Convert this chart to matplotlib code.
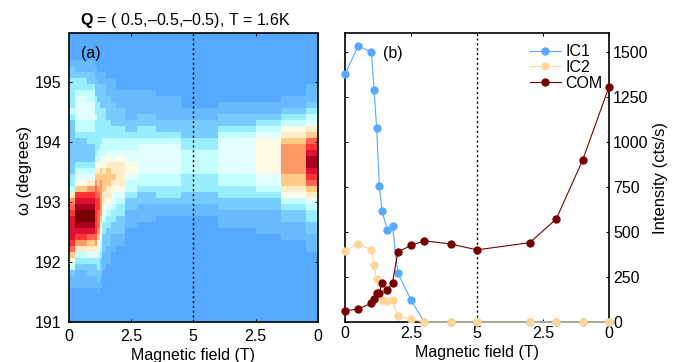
import matplotlib
matplotlib.use("Agg")
import matplotlib.pyplot as plt
import numpy as np
from matplotlib.colors import LinearSegmentedColormap

plt.rcParams["font.family"] = ["Liberation Sans", "DejaVu Sans"]
plt.rcParams["mathtext.fontset"] = "custom"
plt.rcParams["mathtext.bf"] = "Liberation Sans:bold"
plt.rcParams["mathtext.rm"] = "Liberation Sans"

# field sweep positions, 0 -> 5 T -> back to 0 T
field = [0, 0.5, 1, 1.1, 1.2, 1.3, 1.4, 1.6, 1.8, 2, 2.5, 3, 4, 5, 7, 8, 9, 10]
tick_pos = [0, 2.5, 5, 7.5, 10]
tick_labels = ["0", "2.5", "5", "2.5", "0"]
omega_ticks = [191, 192, 193, 194, 195]
intensity_ticks = [0, 250, 500, 750, 1000, 1250, 1500]

ic1 = [1374, 1531, 1497, 1287, 1075, 755, 618, 510, 533, 272, 122, 0, 0, 0, 0, 0, 0, 0]
ic2 = [394, 433, 400, 314, 237, 140, 122, 116, 120, 33, 15, 0, 0, 0, 0, 0, 0, 0]
com = [63, 72, 104, 126, 159, 163, 215, 178, 218, 388, 425, 450, 433, 400, 440, 571, 897, 1304]

# map levels per field column, listed from omega = 195.8 down to 191.0
c00 = [0,0,0,0,0,1, 2,2,3,3,3,3, 3,4,3,2,2,2, 2,2,2,2,2,2, 3,3,4,7,9,10, 11,12,12,12,12,11, 10,8,6,4,2,1, 1,0,0,0,0,0, 0]
c01 = [0,0,0,0,0,1, 1,2,3,3,4,5, 5,5,5,4,4,3, 2,2,2,2,3,4, 5,6,8,11,12,13, 14,14,13,12,11,9, 7,4,3,2,1,1, 1,0,0,0,0,0, 0]
c02 = [0,0,0,0,0,1, 1,2,2,3,4,4, 5,5,5,4,4,3, 3,2,2,2,3,4, 5,7,9,11,12,13, 14,14,13,12,10,8, 7,5,3,2,2,1, 1,0,0,0,0,0, 0]
c03 = [0,0,0,0,0,0, 1,1,2,2,2,3, 3,3,4,3,3,3, 3,3,3,4,6,7, 8,9,10,10,11,11, 11,11,11,11,10,9, 7,5,3,2,2,1, 1,0,0,0,0,0, 0]
c04 = [0,0,0,0,0,0, 0,1,1,2,2,2, 3,3,3,3,3,3, 3,3,4,4,6,7, 8,8,9,10,11,11, 10,10,10,9,8,6, 5,4,3,3,2,2, 1,1,0,0,0,0, 0]
c05 = [0,0,0,0,0,0, 0,1,1,2,2,2, 2,3,3,3,3,3, 3,4,4,5,6,8, 8,9,9,9,9,9, 9,8,7,6,5,4, 4,3,2,2,2,1, 1,0,0,0,0,0, 0]
c06 = [0,0,0,0,0,0, 0,1,1,2,2,2, 2,3,3,3,3,3, 4,4,4,5,6,7, 8,8,8,7,7,6, 5,4,3,3,2,2, 2,1,1,1,0,0, 0,0,0,0,0,0, 0]
c07 = [0,0,0,0,0,0, 0,0,1,1,1,2, 2,2,2,3,3,3, 4,4,5,6,7,8, 8,8,7,7,6,5, 4,3,3,2,2,2, 1,1,1,0,0,0, 0,0,0,0,0,0, 0]
c08 = [0,0,0,0,0,0, 0,0,1,1,1,1, 2,2,2,2,3,3, 4,4,5,5,7,7, 8,7,6,5,5,4, 3,3,2,2,1,1, 1,0,0,0,0,0, 0,0,0,0,0,0, 0]
c09 = [0,0,0,0,0,0, 0,0,0,0,1,1, 1,2,2,2,3,3, 4,4,5,6,7,7, 7,7,6,5,4,3, 3,2,2,2,1,1, 0,0,0,0,0,0, 0,0,0,0,0,0, 0]
c10 = [0,0,0,0,0,0, 0,0,0,0,1,1, 1,1,1,2,2,3, 4,4,5,5,6,6, 5,4,4,3,2,2, 1,1,1,0,0,0, 0,0,0,0,0,0, 0,0,0,0,0,0, 0]
c11 = [0,0,0,0,0,0, 0,0,0,0,1,1, 1,1,2,2,3,3, 4,5,5,5,5,5, 4,4,3,2,2,1, 1,1,0,0,0,0, 0,0,0,0,0,0, 0,0,0,0,0,0, 0]
c12 = [0,0,0,0,0,0, 0,0,0,0,0,1, 1,1,1,2,2,3, 4,5,5,5,5,5, 4,4,3,3,2,1, 1,0,0,0,0,0, 0,0,0,0,0,0, 0,0,0,0,0,0, 0]
c13 = [0,0,0,0,0,0, 0,0,0,0,0,0, 0,1,1,2,2,2, 3,3,4,4,4,4, 3,3,3,2,2,1, 1,0,0,0,0,0, 0,0,0,0,0,0, 0,0,0,0,0,0, 0]
c14 = [0,0,0,0,0,0, 0,0,0,0,0,0, 1,1,2,2,3,4, 5,5,5,5,5,5, 4,4,3,3,2,2, 1,1,1,0,0,0, 0,0,0,0,0,0, 0,0,0,0,0,0, 0]
c15 = [0,0,0,0,0,0, 0,0,0,0,0,0, 1,1,2,3,4,5, 6,6,6,6,6,6, 5,5,4,3,2,2, 1,1,1,1,0,0, 0,0,0,0,0,0, 0,0,0,0,0,0, 0]
c16 = [0,0,0,0,0,0, 0,0,0,0,0,1, 1,2,3,4,6,7, 8,9,9,9,9,9, 8,8,7,6,4,3, 2,2,1,1,1,0, 0,0,0,0,0,0, 0,0,0,0,0,0, 0]
c17 = [0,0,0,0,0,0, 0,0,0,1,1,1, 2,3,4,5,7,8, 10,11,12,13,13,12, 11,10,8,7,5,4, 3,3,2,2,1,1, 1,0,0,0,0,0, 0,0,0,0,0,0, 0]
columns = [c00, c01, c02, c03, c04, c05, c06, c07, c08, c09, c10, c11, c12, c13, c14, c15, c16, c17]

level_colors = ["#55aaff", "#66bbff", "#77ccff", "#99eeff", "#c4ffff", "#e2ffff", "#fffbe6", "#ffeecc",
                "#ffcc88", "#ff9966", "#ff6655", "#ff3333", "#dd1133", "#aa0022", "#770000"]

W, H = 680, 362
BLUE, TAN, DARK = "#55aaff", "#ffd699", "#770000"


def make_axes(left, right):
    ax = fig.add_axes([left / W, 1 - 322 / H, (right - left) / W, 288.5 / H])
    ax.set_xlim(0, 10)
    ax.set_xticks(tick_pos)
    ax.set_xticklabels(tick_labels)
    ax.set_xlabel("Magnetic field (T)", fontsize=11.5, labelpad=3)
    ax.tick_params(direction="in", length=2.5, width=0.7, top=True, labelsize=11.5, pad=5)
    for s in ax.spines.values():
        s.set_linewidth(1.2)
    ax.axvline(5, color="k", ls=(0, (1.5, 2)), lw=1, zorder=1.5)
    return ax


def plot_series(ax, y, c, label):
    ax.plot(field, y, "-o", c=c, ms=5, lw=0.8, label=label, clip_on=False, zorder=3)


fig = plt.figure(figsize=(W / 100, H / 100), dpi=100)

# panel a, map
ax1 = make_axes(68.5, 318)
grid = np.array(columns, dtype=float).T[::-1]
mid = [(a + b) / 2 for a, b in zip(field[:-1], field[1:])]
x_edges = np.array([field[0]] + mid + [field[-1]])
y_edges = 190.967 + 0.1 * np.arange(grid.shape[0] + 1)
cmap = LinearSegmentedColormap.from_list("blue_red", level_colors)
ax1.pcolormesh(x_edges, y_edges, grid, cmap=cmap, vmin=0, vmax=14, shading="flat", antialiased=False, rasterized=True)
ax1.set_ylim(191, 195.81)
ax1.set_yticks(omega_ticks)
ax1.tick_params(right=True)
ax1.set_ylabel("\u03c9 (degrees)", fontsize=12)
ax1.yaxis.set_label_coords(-0.145, 0.527)
ax1.text(0.5, 195.47, "(a)", fontsize=11.5, va="center")
fig.text(80 / W, 1 - 20.5 / H, "$\\mathbf{Q}$ = ( 0.5,\u20130.5,\u20130.5), T = 1.6K", fontsize=11.5, va="center")

# panel b, intensities
ax2 = make_axes(345, 609)
plot_series(ax2, ic1, BLUE, "IC1")
plot_series(ax2, ic2, TAN, "IC2")
plot_series(ax2, com, DARK, "COM")
ax2.set_ylim(0, 1600)
ax2.set_yticks(intensity_ticks)
ax2.yaxis.set_label_position("right")
ax2.yaxis.tick_right()
ax2.tick_params(left=True, right=True, pad=3)
ax2.set_ylabel("Intensity (cts/s)", fontsize=12, labelpad=3)
ax2.text(1.45, 1490, "(b)", fontsize=11.5, va="center")
ax2.legend(loc="upper right", frameon=False, fontsize=11.5, handlelength=1.9, handletextpad=0.3,
           labelspacing=0.05, borderaxespad=0, bbox_to_anchor=(1.0, 0.985))

fig.savefig("out.png", dpi=100)
